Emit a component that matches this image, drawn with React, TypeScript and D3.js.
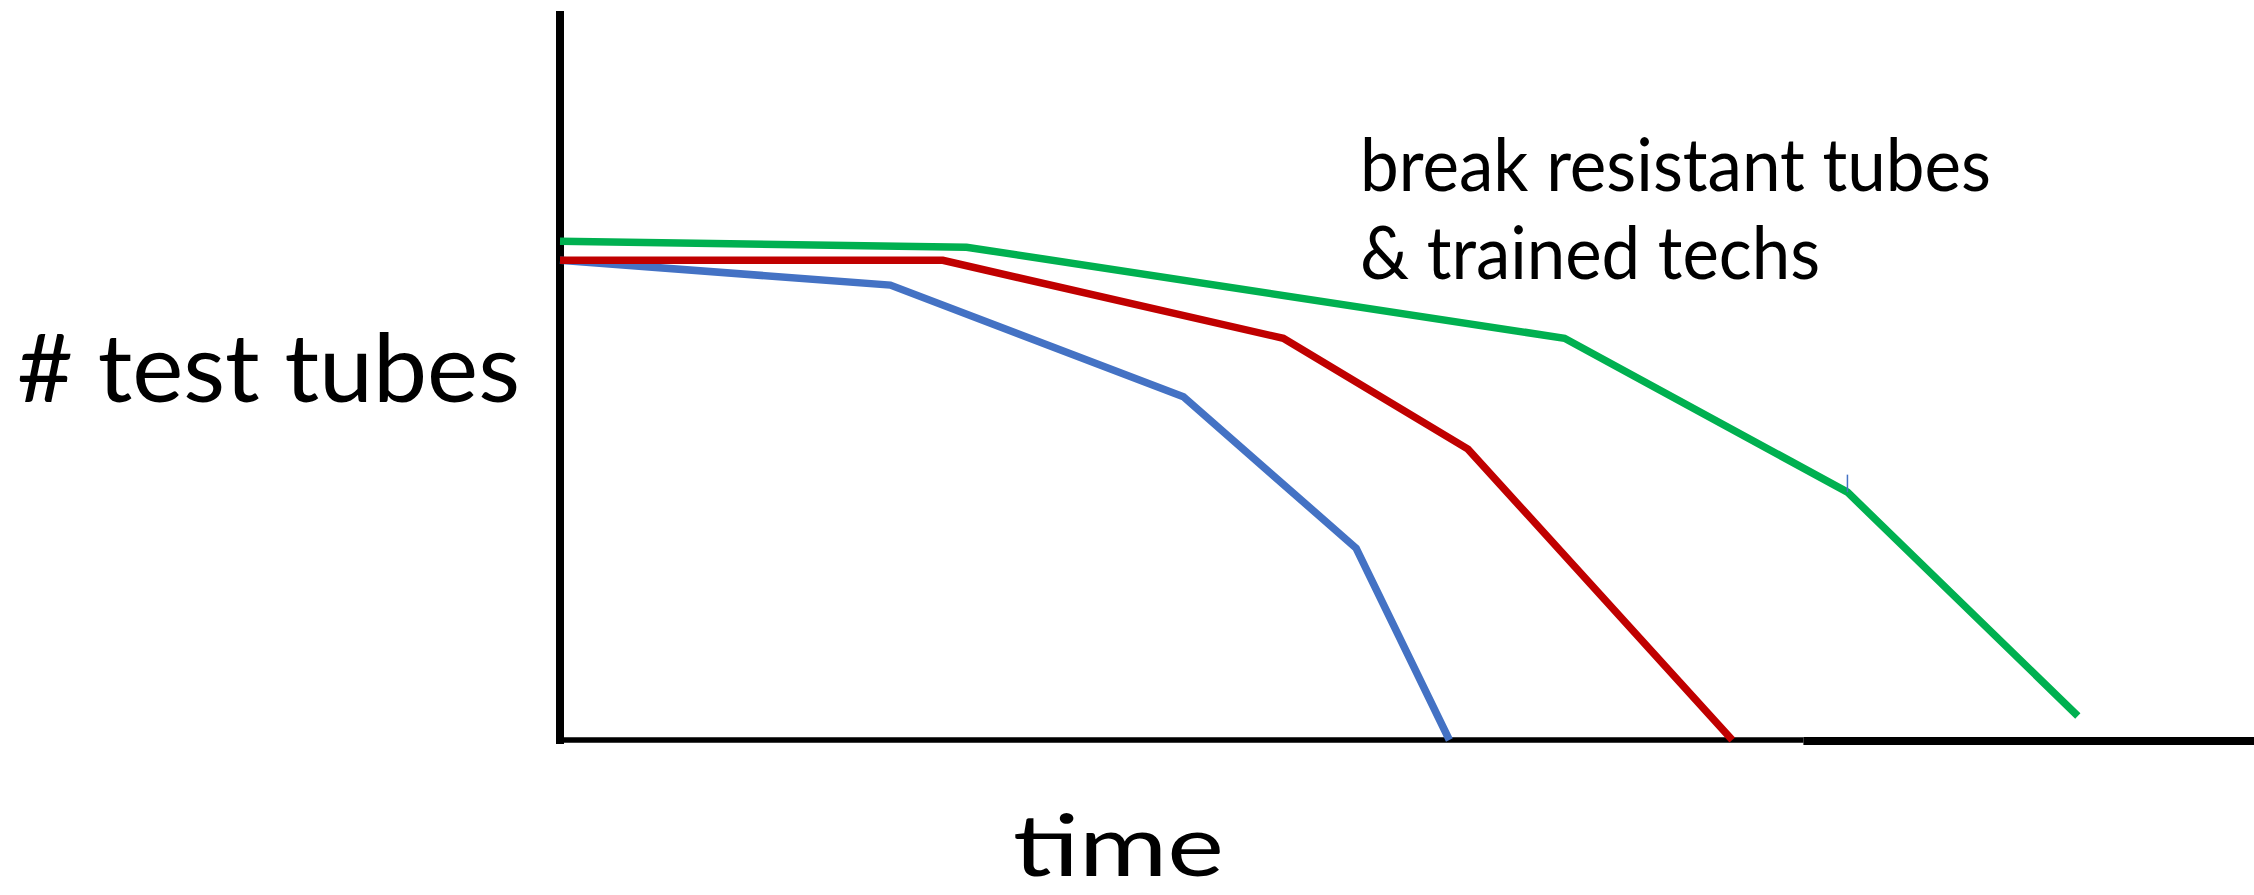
import React from "react";
import * as d3 from "d3";

// ---- data (time units 0..100, test-tube count units 0..100) ----
const greenX = [0, 24.0, 59.3, 76.0, 89.6];
const greenY = [68.4, 67.6, 55.1, 34.0, 3.3];
const redX = [0, 22.6, 42.7, 53.6, 69.2];
const redY = [65.8, 65.8, 55.1, 39.9, 0];
const blueX = [0, 19.5, 36.8, 47.0, 52.5];
const blueY = [65.8, 62.4, 47.1, 26.3, 0];

const seriesNames = ["blue", "red", "green"];
const seriesColors = ["#4472C4", "#C00000", "#00B050"];

const yLabel = "# test tubes";
const xLabel = "time";
const noteLines = ["break resistant tubes", "& trained techs"];

const W = 2254;
const H = 895;

export default function App() {
  const x = d3.scaleLinear().domain([0, 100]).range([560, 2254]);
  const y = d3.scaleLinear().domain([0, 100]).range([740, 11]);

  const line = d3
    .line<[number, number]>()
    .x((d) => x(d[0]))
    .y((d) => y(d[1]));

  const series = [
    { xs: blueX, ys: blueY },
    { xs: redX, ys: redY },
    { xs: greenX, ys: greenY },
  ];

  const font = "Lato, 'Open Sans', sans-serif";

  return (
    <svg
      width={W}
      height={H}
      viewBox={`0 0 ${W} ${H}`}
      style={{ position: "absolute", left: 0, top: 0, background: "#fff" }}
    >
      <rect x={0} y={0} width={W} height={H} fill="#fff" />
      {/* axes */}
      <line x1={x(0)} x2={x(0)} y1={y(100)} y2={y(0) + 4} stroke="#000" strokeWidth={8} />
      <line x1={x(0)} x2={x(73.4)} y1={y(0)} y2={y(0)} stroke="#000" strokeWidth={5.5} />
      <line x1={x(73.4)} x2={x(100)} y1={y(0) + 1} y2={y(0) + 1} stroke="#000" strokeWidth={8} />

      {/* series */}
      {series.map((s, i) => (
        <path
          key={seriesNames[i]}
          d={line(s.xs.map((v, j) => [v, s.ys[j]] as [number, number])) || ""}
          fill="none"
          stroke={seriesColors[i]}
          strokeWidth={7.5}
          strokeLinejoin="miter"
          strokeLinecap="butt"
        />
      ))}
      {/* small stray tick at the green bend */}
      <line
        x1={x(greenX[3])}
        x2={x(greenX[3])}
        y1={y(greenY[3])}
        y2={y(greenY[3] + 2.4)}
        stroke="#4472C4"
        strokeWidth={1.5}
      />

      {/* labels */}
      <text
        x={17}
        y={402}
        fontFamily={font}
        fontSize={95}
        textLength={503}
        lengthAdjust="spacingAndGlyphs"
        fill="#000"
      >
        {yLabel}
      </text>
      <text
        x={1013}
        y={876}
        fontFamily={font}
        fontSize={86}
        textLength={211}
        lengthAdjust="spacingAndGlyphs"
        fill="#000"
      >
        {xLabel}
      </text>
      <text x={1360} y={191} fontFamily={font} fontSize={73} textLength={631} lengthAdjust="spacingAndGlyphs" fill="#000">
        {noteLines[0]}
      </text>
      <text x={1360} y={279} fontFamily={font} fontSize={73} textLength={460} lengthAdjust="spacingAndGlyphs" fill="#000">
        {noteLines[1]}
      </text>
    </svg>
  );
}
